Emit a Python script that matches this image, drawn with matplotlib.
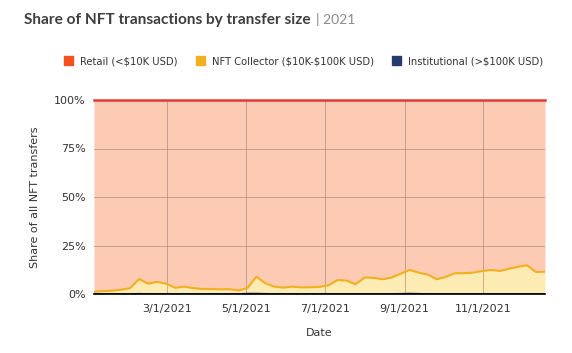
import numpy as np
import pandas as pd
import matplotlib
matplotlib.use("Agg")
import matplotlib.pyplot as plt
import matplotlib.dates as mdates
from matplotlib.ticker import FixedLocator, FuncFormatter
from matplotlib.patches import Patch

#+++ Data (weekly shares, %)
dates = pd.date_range("2021-01-03", periods=51, freq="7D")
institutional = [0.1, 0.1, 0.1, 0.1, 0.1, 0.2, 0.1, 0.1, 0.1, 0.1,
                 0.1, 0.1, 0.1, 0.1, 0.1, 0.1, 0.1, 0.3, 0.3, 0.2,
                 0.1, 0.1, 0.1, 0.1, 0.1, 0.1, 0.1, 0.1, 0.1, 0.1,
                 0.1, 0.1, 0.1, 0.1, 0.2, 0.3, 0.2, 0.1, 0.1, 0.1,
                 0.1, 0.1, 0.1, 0.1, 0.1, 0.1, 0.1, 0.1, 0.1, 0.1, 0.1]
collector_top = [1.2, 1.5, 1.7, 2.2, 3.0, 7.7, 5.3, 6.3, 5.3, 3.2,
                 3.8, 3.0, 2.6, 2.6, 2.4, 2.5, 1.8, 3.0, 8.9, 5.5,
                 3.8, 3.3, 3.8, 3.4, 3.5, 3.7, 4.5, 7.2, 6.9, 5.0,
                 8.5, 8.3, 7.6, 8.5, 10.5, 12.4, 11.0, 10.0, 7.6, 8.8,
                 10.7, 10.7, 11.0, 11.8, 12.4, 11.9, 13.0, 14.0, 14.8, 11.3, 11.5]
collector = [c - i for c, i in zip(collector_top, institutional)]
retail = [100 - c for c in collector_top]
#---

#+++ Styling
c_retail, c_retail_fill = "#F4511E", "#FDCBB4"
c_coll, c_coll_fill = "#F2B01E", "#FDEBB4"
c_inst = "#253B6E"
#---

fig = plt.figure(figsize=(5.72, 3.53), dpi=100)
ax = fig.add_axes([94/572, 1 - 294/353, 451/572, 194/353])

inst = np.array(institutional)
coll_top = np.array(collector_top)
total = coll_top + np.array(retail)
ax.fill_between(dates, 0, inst, color=c_inst, alpha=0.3, lw=0)
ax.fill_between(dates, inst, coll_top, color=c_coll_fill, lw=0)
ax.fill_between(dates, coll_top, total, color=c_retail_fill, lw=0)
ax.plot(dates, inst, color=c_inst, lw=1.0, zorder=4)
ax.plot(dates, coll_top, color=c_coll, lw=1.5, zorder=4)
ax.plot(dates, total, color="#E53935", lw=1.8, clip_on=False, zorder=5)

ax.set_xlim(dates[0], dates[-1])
ax.set_ylim(0, 100)
ax.yaxis.set_major_locator(FixedLocator([0, 25, 50, 75, 100]))
ax.yaxis.set_major_formatter(FuncFormatter(lambda v, p: f"{v:.0f}%"))
ax.xaxis.set_major_locator(mdates.MonthLocator(bymonth=[3, 5, 7, 9, 11]))
ax.xaxis.set_major_formatter(FuncFormatter(lambda v, p: f"{mdates.num2date(v).month}/1/2021"))
ax.grid(True, color="#A88070", lw=0.6, alpha=0.7, zorder=3)
ax.set_axisbelow(False)
for s in ["top", "right", "left"]:
    ax.spines[s].set_visible(False)
ax.spines["bottom"].set_color("black")
ax.spines["bottom"].set_linewidth(1.2)
ax.spines["bottom"].set_zorder(6)
ax.tick_params(length=0, labelsize=8, colors="#333333", pad=6)
ax.tick_params(axis="x", pad=7)
ax.set_xlabel("Date", fontsize=8, color="#333333", labelpad=10)
ax.set_ylabel("Share of all NFT transfers", fontsize=8, color="#333333", labelpad=10)

title = fig.text(24/572, 1 - 20/353, "Share of NFT transactions by transfer size", fontsize=11.1,
                 family="Lato", fontweight="bold", color="#3E3E3E", va="center", ha="left")
fig.canvas.draw()
tb = title.get_window_extent()
fig.text((tb.x1 + 5) / 572, 1 - 20/353, "| 2021", fontsize=10, family="Lato", color="#8A8A8A",
         va="center", ha="left")

handles = [Patch(color=c_retail, label="Retail (<\\$10K USD)"),
           Patch(color=c_coll, label="NFT Collector (\\$10K-\\$100K USD)"),
           Patch(color=c_inst, label="Institutional (>\\$100K USD)")]
fig.legend(handles=handles, loc="center right", bbox_to_anchor=(552/572, 1 - 61/353), ncol=3,
           frameon=False, fontsize=7.2, handlelength=0.9, handleheight=0.9, columnspacing=1.8,
           handletextpad=0.7, labelcolor="#333333")

fig.savefig("out.png", dpi=100)
